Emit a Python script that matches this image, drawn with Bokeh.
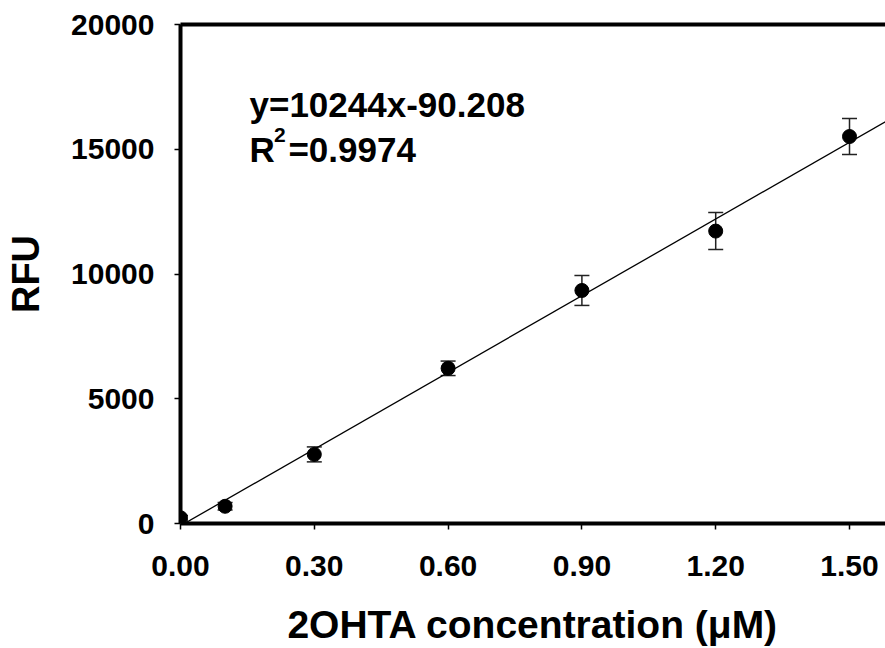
from bokeh.plotting import figure
from bokeh.models import (Range1d, FixedTicker, NumeralTickFormatter, LinearAxis,
                          ColumnDataSource, Whisker, TeeHead, Label)
from bokeh.embed import file_html
from bokeh.resources import INLINE

# ---- data ----
conc = [0.0, 0.1, 0.3, 0.6, 0.9, 1.2, 1.5]
rfu = [230, 690, 2770, 6220, 9340, 11720, 15510]
rfu_err = [90, 150, 300, 290, 600, 740, 720]
slope = 10244
intercept = -90.208
x_ticks = [0.0, 0.3, 0.6, 0.9, 1.2, 1.5]
y_ticks = [0, 5000, 10000, 15000, 20000]
x_title = "2OHTA concentration (\u03bcM)"
y_title = "RFU"
eq_text = "y=10244x-90.208"
r2_value = "=0.9974"

FONT = "Liberation Sans"
X_MAX = 1.5807

p = figure(width=885, height=648, output_backend="svg", toolbar_location=None,
           x_range=Range1d(0, X_MAX), y_range=Range1d(0, 20000),
           min_border_left=180, min_border_right=0, min_border_top=24,
           min_border_bottom=125)
p.outline_line_color = None
p.grid.visible = False
p.background_fill_color = "white"
p.border_fill_color = "white"

for ax in (p.xaxis[0], p.yaxis[0]):
    ax.axis_line_width = 4
    ax.axis_line_color = "black"
    ax.major_tick_line_width = 1.5
    ax.major_tick_line_color = "black"
    ax.major_tick_out = 6
    ax.major_tick_in = 0
    ax.minor_tick_line_color = None
    ax.major_label_text_font = FONT
    ax.major_label_text_font_style = "bold"
    ax.major_label_text_font_size = "30px"
    ax.major_label_text_color = "black"
    ax.axis_label_text_font = FONT
    ax.axis_label_text_font_style = "bold"
    ax.axis_label_text_font_size = "38px"
    ax.axis_label_text_color = "black"

p.xaxis[0].ticker = FixedTicker(ticks=x_ticks)
p.xaxis[0].formatter = NumeralTickFormatter(format="0.00")
p.xaxis[0].major_label_standoff = 26
p.xaxis[0].axis_label = x_title
p.xaxis[0].axis_label_text_font_size = "39px"
p.xaxis[0].axis_label_standoff = 24

p.yaxis[0].ticker = FixedTicker(ticks=y_ticks)
p.yaxis[0].formatter = NumeralTickFormatter(format="0")
p.yaxis[0].major_label_standoff = 20
p.yaxis[0].axis_label = y_title
p.yaxis[0].axis_label_standoff = 21

top = LinearAxis(ticker=FixedTicker(ticks=[]), axis_line_width=4, axis_line_color="black",
                 major_label_text_font_size="0px", major_tick_line_color=None,
                 minor_tick_line_color=None, major_label_standoff=0)
p.add_layout(top, "above")

# regression line
p.line([0.0, X_MAX], [intercept, slope * X_MAX + intercept], line_color="black", line_width=1.3)

src = ColumnDataSource(dict(x=conc, y=rfu,
                            lo=[v - e for v, e in zip(rfu, rfu_err)],
                            hi=[v + e for v, e in zip(rfu, rfu_err)]))
w = Whisker(source=src, base="x", lower="lo", upper="hi", line_color="#222222", line_width=1.5,
            upper_head=TeeHead(size=15, line_color="#222222", line_width=1.5),
            lower_head=TeeHead(size=15, line_color="#222222", line_width=1.5))
p.add_layout(w)
p.scatter("x", "y", source=src, size=14, marker="circle", fill_color="black", line_color="black")

lab_kw = dict(text_font=FONT, text_font_style="bold", text_color="black",
              text_baseline="alphabetic", text_align="left")
p.add_layout(Label(x=0.1547, y=16805, text=eq_text, text_font_size="35px", **lab_kw))
p.add_layout(Label(x=0.1547, y=15000, text="R", text_font_size="35px", **lab_kw))
p.add_layout(Label(x=0.2095, y=15560, text="2", text_font_size="21px", **lab_kw))
p.add_layout(Label(x=0.2420, y=15000, text=r2_value, text_font_size="35px", **lab_kw))

open("out.html", "w").write(file_html(p, INLINE))
